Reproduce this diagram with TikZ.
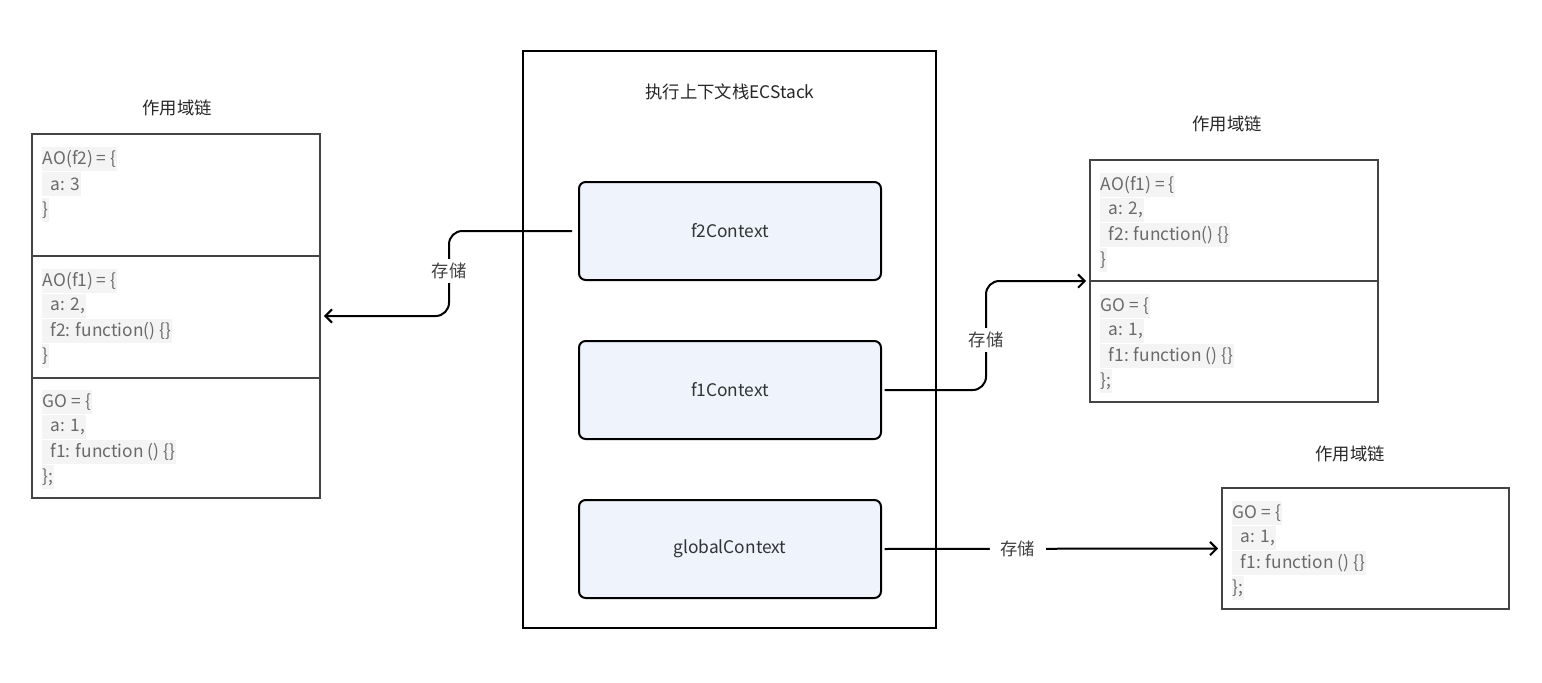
\documentclass[tikz,border=0pt]{standalone}
\usepackage{fontspec}
\usetikzlibrary{arrows.meta}
\setmainfont{Noto Sans CJK SC}
\definecolor{ctxfill}{HTML}{EEF3FC}
\definecolor{codegray}{HTML}{6A6A6A}
\definecolor{codebg}{HTML}{F4F4F4}
\definecolor{boxline}{HTML}{444444}
\begin{document}
\begin{tikzpicture}[x=0.75pt,y=-0.75pt,
  ctx/.style={draw=black, line width=1.5pt, fill=ctxfill, rounded corners=5pt,
    minimum width=226.5pt, minimum height=73.5pt, font=\fontsize{13}{15}\selectfont, text=black!80},
  panel/.style={draw=boxline, line width=0.9pt, inner sep=0pt},
  title/.style={font=\fontsize{13}{15}\selectfont, text=black!85},
  code/.style={anchor=west, font=\fontsize{13}{15}\selectfont, text=codegray, fill=codebg,
    inner xsep=0.5pt, inner ysep=0pt, minimum height=18.5pt},
  conn/.style={line width=1.5pt, rounded corners=10pt},
  tip/.style={-{Straight Barb[length=5pt,width=10pt,line width=1.5pt]}},
  lbl/.style={fill=white, font=\fontsize{13}{15}\selectfont, text=black!75, inner sep=3pt}]
\useasboundingbox (0,0) rectangle (1542,682);
% ECStack
\node[panel, draw=black, line width=1.5pt, minimum width=309.75pt, minimum height=432.75pt] (stack) at (729.5,339.5) {};
\node[title] (stitle) at (730,92) {执行上下文栈ECStack};
\node[ctx] (f2) at (730,231) {f2Context};
\node[ctx] (f1) at (730,390) {f1Context};
\node[ctx] (gl) at (730,549) {globalContext};
% left scope chain
\node[title] (ltitle) at (177,108) {作用域链};
\node[panel, minimum width=216pt, minimum height=273pt] (lb) at (176,316) {};
\draw[boxline, line width=0.9pt] (32,256) -- (320,256) (32,378) -- (320,378);
\foreach \t/\y [count=\i] in {{AO(f2) = \{}/159, {\hspace*{0.45em}a: 3}/184, {\}}/210,
   {AO(f1) = \{}/281, {\hspace*{0.45em}a: 2,}/306, {\hspace*{0.45em}f2: function() \{\}}/331, {\}}/356,
   {GO = \{}/402, {\hspace*{0.45em}a: 1,}/427, {\hspace*{0.45em}f1: function () \{\}}/452, {\};}/477}
  \node[code] (l\i) at (42,\y) {\t};
% right top scope chain
\node[title] (rtitle) at (1227,124) {作用域链};
\node[panel, minimum width=216pt, minimum height=181.5pt] (rt) at (1234,281) {};
\draw[boxline, line width=0.9pt] (1090,281) -- (1378,281);
\foreach \t/\y [count=\i] in {{AO(f1) = \{}/185, {\hspace*{0.45em}a: 2,}/210, {\hspace*{0.45em}f2: function() \{\}}/235, {\}}/260,
   {GO = \{}/306, {\hspace*{0.45em}a: 1,}/331, {\hspace*{0.45em}f1: function () \{\}}/356, {\};}/381}
  \node[code] (r\i) at (1100,\y) {\t};
% right bottom scope chain
\node[title] (btitle) at (1350,454) {作用域链};
\node[panel, minimum width=215.25pt, minimum height=90.75pt] (rb) at (1365.5,548.5) {};
\foreach \t/\y [count=\i] in {{GO = \{}/513, {\hspace*{0.45em}a: 1,}/538, {\hspace*{0.45em}f1: function () \{\}}/563, {\};}/588}
  \node[code] (b\i) at (1232,\y) {\t};
% connectors
\coordinate (c1) at (449,316);
\coordinate (c2) at (986,281);
\draw[conn, tip, shorten <=4.5pt, shorten >=2.5pt] (f2.west) -| (c1) -- (lb.east);
\node[lbl] (s1) at (449,271) {存储};
\draw[conn, tip, shorten <=2pt, shorten >=2.5pt] (f1.east) -| (c2) -- (rt.west);
\node[lbl] (s2) at (986,340) {存储};
\draw[conn, tip, shorten <=2pt, shorten >=2.5pt] (gl.east) -- node[lbl, pos=0.4, inner xsep=8pt] (s3) {存储} (rb.west);
\end{tikzpicture}
\end{document}
